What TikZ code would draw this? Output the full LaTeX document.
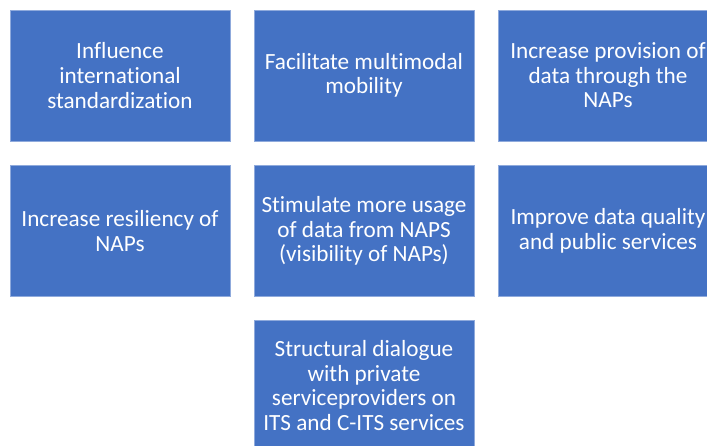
\documentclass[tikz,border=0pt]{standalone}
\usepackage{fontspec}
\setmainfont{Carlito}[Ligatures={NoCommon}]
\definecolor{boxblue}{HTML}{4472C4}
\definecolor{boxedge}{HTML}{8FAADC}
\begin{document}
\begin{tikzpicture}[x=1pt,y=1pt,
  goal/.style={rectangle, fill=boxblue, draw=boxedge, line width=0.6pt,
    minimum width=220pt, minimum height=131pt, inner sep=0pt,
    text=white, align=center,
    font=\fontsize{23.2}{24.6}\selectfont}]
\useasboundingbox (0,0) rectangle (707,445);
\clip (0,0) rectangle (707,445);
\fill[white] (0,0) rectangle (707,445);
% first row
\node[goal] (g1) at (120,369.5) {Influence\\international\\standardization};
\node[goal] (g2) at (364,369.5) {Facilitate multimodal\\mobility};
\node[goal] (g3) at (608,369.5) {Increase provision of\\data through the\\NAPs};
% second row
\node[goal] (g4) at (120,214) {Increase resiliency of\\NAPs};
\node[goal] (g5) at (364,214) {Stimulate more usage\\of data from NAPS\\(visibility of NAPs)};
\node[goal] (g6) at (608,214) {Improve data quality\\and public services};
% third row
\node[goal] (g7) at (364,59.5) {Structural dialogue\\with private\\serviceproviders on\\ITS and C-ITS services};
\end{tikzpicture}
\end{document}
